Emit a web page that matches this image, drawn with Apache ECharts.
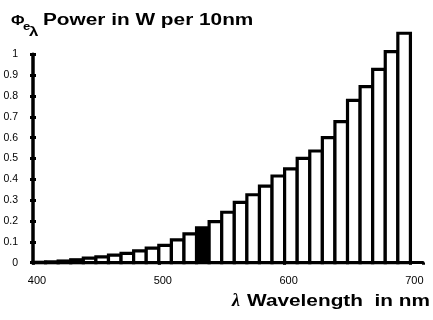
<!DOCTYPE html>
<html><head><meta charset="utf-8">
<script src="https://cdn.jsdelivr.net/npm/echarts@6/dist/echarts.min.js"></script>
<style>html,body{margin:0;padding:0;background:#fff}#c{width:433px;height:320px}</style>
</head><body><div id="c"></div>
<script>
// Bin start wavelengths (nm), each bin is 10 nm wide
const wavelengths = [400,410,420,430,440,450,460,470,480,490,500,510,520,530,540,550,560,570,580,590,600,610,620,630,640,650,660,670,680,690];
// Power in W per 10 nm
const power = [0.002,0.004,0.008,0.014,0.022,0.028,0.036,0.045,0.057,0.070,0.083,0.110,0.138,0.167,0.197,0.242,0.289,0.326,0.367,0.416,0.450,0.501,0.536,0.600,0.677,0.779,0.845,0.928,1.013,1.101];
const highlightWavelength = 530;
const binWidth = 10;
const xTickLabels = [400, 500, 600, 700];
const yTickLabels = [0,0.1,0.2,0.3,0.4,0.5,0.6,0.7,0.8,0.9,1];
const titleSymbol = 'Φ';
const titleSub1 = 'e';
const titleSub2 = 'λ';
const titleText = 'Power in W per 10nm';
const xNameSymbol = 'λ';
const xNameText = 'Wavelength  in nm';

const chart = echarts.init(document.getElementById('c'), null, {renderer: 'canvas'});
const FONT = 'Liberation Sans, Arial, sans-serif';
const data = wavelengths.map((w, i) => [w, power[i]]);

const yAxisBase = {
  type: 'value', min: 0, max: 1, interval: 0.1, position: 'left',
  splitLine: {show: false}
};

chart.setOption({
  animation: false,
  backgroundColor: '#fff',
  grid: {left: 33, right: 10, top: 54.3, bottom: 57.3, containLabel: false},
  xAxis: {
    type: 'value', min: 400, max: 710, interval: 100,
    axisLine: {show: true, onZero: false, lineStyle: {color: '#000', width: 3}},
    axisTick: {show: true, length: 2, lineStyle: {color: '#000', width: 3}},
    splitLine: {show: false},
    axisLabel: {
      color: '#000', fontFamily: FONT, fontSize: 11, margin: 13, padding: [0,0,0,8],
      formatter: v => xTickLabels.indexOf(v) >= 0 ? String(v) : ''
    }
  },
  yAxis: [
    Object.assign({}, yAxisBase, {
      axisLine: {show: true, lineStyle: {color: '#000', width: 3.5}},
      axisTick: {show: true, length: 3, lineStyle: {color: '#000', width: 3}},
      axisLabel: {color: '#000', fontFamily: FONT, fontSize: 10.5, margin: 15,
        formatter: v => { const t = yTickLabels.find(x => Math.abs(x - v) < 1e-9); return t === undefined ? '' : String(t); }}
    }),
    Object.assign({}, yAxisBase, {
      axisLine: {show: false},
      axisTick: {show: true, inside: true, length: 3, lineStyle: {color: '#000', width: 3}},
      axisLabel: {show: false}
    })
  ],
  series: [{
    type: 'custom',
    data: data,
    clip: false,
    renderItem: function (params, api) {
      const x0 = api.value(0);
      const v = api.value(1);
      const p0 = api.coord([x0, 0]);
      const p1 = api.coord([x0 + binWidth, v]);
      const dark = x0 === highlightWavelength;
      return {
        type: 'rect',
        shape: {x: p0[0], y: p1[1], width: p1[0] - p0[0], height: p0[1] - p1[1]},
        style: {fill: dark ? '#000' : '#fff', stroke: '#000', lineWidth: 3.2}
      };
    }
  }],
  graphic: [
    {type: 'text', x: 11, y: 21, scaleX: 1.1, style: {text: titleSymbol, font: 'bold 15px ' + FONT, fill: '#000', verticalAlign: 'middle'}},
    {type: 'text', x: 23, y: 26.5, scaleX: 1.2, style: {text: titleSub1, font: 'bold 11px ' + FONT, fill: '#000', verticalAlign: 'middle'}},
    {type: 'text', x: 29, y: 33, scaleX: 1.4, style: {text: titleSub2, font: 'bold 12px ' + FONT, fill: '#000', verticalAlign: 'middle'}},
    {type: 'text', x: 43, y: 21, scaleX: 1.3, style: {text: titleText, font: 'bold 16px ' + FONT, fill: '#000', verticalAlign: 'middle', align: 'left'}},
    {type: 'text', x: 232, y: 301, style: {text: xNameSymbol, font: 'italic bold 18px Liberation Serif, serif', fill: '#000', verticalAlign: 'middle', align: 'left'}},
    {type: 'text', x: 430, y: 301.5, scaleX: 1.3, style: {text: xNameText, font: 'bold 16px ' + FONT, fill: '#000', verticalAlign: 'middle', align: 'right'}}
  ]
});
</script>
</body></html>
